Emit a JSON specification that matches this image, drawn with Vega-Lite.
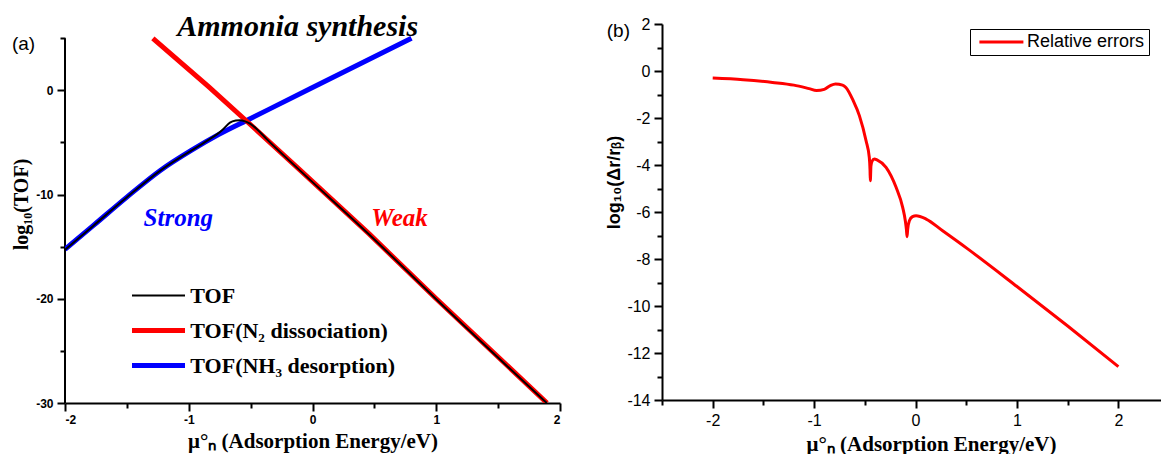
{
  "$schema": "https://vega.github.io/schema/vega-lite/v6.json",
  "padding": {"left": 11, "top": 12, "right": 0, "bottom": 0},
  "autosize": {"type": "pad"},
  "spacing": 44,
  "align": "none",
  "config": {
    "view": {"stroke": null},
    "axis": {
      "grid": false,
      "domainColor": "black",
      "domainWidth": 2,
      "tickColor": "black",
      "tickWidth": 2,
      "labelColor": "black",
      "titleColor": "black",
      "titleFont": "Liberation Serif",
      "titleFontWeight": "bold",
      "titleFontSize": 20
    }
  },
  "datasets": {
    "tof": [
      {"series": "TOF(NH₃ desorption)", "x": -2.0, "y": -15.25},
      {"series": "TOF(NH₃ desorption)", "x": -1.77, "y": -12.96},
      {"series": "TOF(NH₃ desorption)", "x": -1.5, "y": -10.24},
      {"series": "TOF(NH₃ desorption)", "x": -1.23, "y": -7.68},
      {"series": "TOF(NH₃ desorption)", "x": -0.98, "y": -5.76},
      {"series": "TOF(NH₃ desorption)", "x": -0.76, "y": -4.25},
      {"series": "TOF(NH₃ desorption)", "x": -0.5, "y": -2.7},
      {"series": "TOF(NH₃ desorption)", "x": -0.02, "y": 0.16},
      {"series": "TOF(NH₃ desorption)", "x": 0.8, "y": 5.0},
      {"series": "TOF(N₂ dissociation)", "x": -1.29, "y": 5.0},
      {"series": "TOF(N₂ dissociation)", "x": -0.84, "y": 0.35},
      {"series": "TOF(N₂ dissociation)", "x": -0.5, "y": -3.3},
      {"series": "TOF(N₂ dissociation)", "x": -0.1, "y": -7.65},
      {"series": "TOF(N₂ dissociation)", "x": 0.46, "y": -13.8},
      {"series": "TOF(N₂ dissociation)", "x": 1.0, "y": -20.0},
      {"series": "TOF(N₂ dissociation)", "x": 1.895, "y": -30.0},
      {"series": "TOF", "x": -2.0, "y": -15.3},
      {"series": "TOF", "x": -1.77, "y": -12.98},
      {"series": "TOF", "x": -1.5, "y": -10.26},
      {"series": "TOF", "x": -1.23, "y": -7.7},
      {"series": "TOF", "x": -0.98, "y": -5.78},
      {"series": "TOF", "x": -0.83, "y": -4.67},
      {"series": "TOF", "x": -0.77, "y": -4.2},
      {"series": "TOF", "x": -0.72, "y": -3.7},
      {"series": "TOF", "x": -0.667, "y": -3.1},
      {"series": "TOF", "x": -0.62, "y": -2.9},
      {"series": "TOF", "x": -0.586, "y": -2.86},
      {"series": "TOF", "x": -0.545, "y": -2.97},
      {"series": "TOF", "x": -0.505, "y": -3.2},
      {"series": "TOF", "x": -0.451, "y": -3.7},
      {"series": "TOF", "x": -0.37, "y": -4.68},
      {"series": "TOF", "x": -0.1, "y": -7.7},
      {"series": "TOF", "x": 0.46, "y": -13.85},
      {"series": "TOF", "x": 1.0, "y": -20.05},
      {"series": "TOF", "x": 1.893, "y": -30.0}
    ],
    "err": [
      {"series": "Relative errors", "x": -2.0, "y": -0.3},
      {"series": "Relative errors", "x": -1.7, "y": -0.37},
      {"series": "Relative errors", "x": -1.41, "y": -0.485},
      {"series": "Relative errors", "x": -1.2, "y": -0.6},
      {"series": "Relative errors", "x": -1.05, "y": -0.75},
      {"series": "Relative errors", "x": -0.976, "y": -0.83},
      {"series": "Relative errors", "x": -0.9, "y": -0.78},
      {"series": "Relative errors", "x": -0.84, "y": -0.62},
      {"series": "Relative errors", "x": -0.789, "y": -0.55},
      {"series": "Relative errors", "x": -0.72, "y": -0.6},
      {"series": "Relative errors", "x": -0.687, "y": -0.7},
      {"series": "Relative errors", "x": -0.615, "y": -1.26},
      {"series": "Relative errors", "x": -0.554, "y": -1.9},
      {"series": "Relative errors", "x": -0.488, "y": -2.97},
      {"series": "Relative errors", "x": -0.456, "y": -3.68},
      {"series": "Relative errors", "x": -0.449, "y": -4.2},
      {"series": "Relative errors", "x": -0.446, "y": -4.67},
      {"series": "Relative errors", "x": -0.44, "y": -4.05},
      {"series": "Relative errors", "x": -0.43, "y": -3.85},
      {"series": "Relative errors", "x": -0.406, "y": -3.74},
      {"series": "Relative errors", "x": -0.38, "y": -3.78},
      {"series": "Relative errors", "x": -0.291, "y": -4.1},
      {"series": "Relative errors", "x": -0.192, "y": -4.95},
      {"series": "Relative errors", "x": -0.127, "y": -5.8},
      {"series": "Relative errors", "x": -0.101, "y": -6.37},
      {"series": "Relative errors", "x": -0.09, "y": -6.75},
      {"series": "Relative errors", "x": -0.084, "y": -7.05},
      {"series": "Relative errors", "x": -0.078, "y": -6.75},
      {"series": "Relative errors", "x": -0.061, "y": -6.37},
      {"series": "Relative errors", "x": -0.03, "y": -6.2},
      {"series": "Relative errors", "x": 0.005, "y": -6.16},
      {"series": "Relative errors", "x": 0.104, "y": -6.3},
      {"series": "Relative errors", "x": 0.267, "y": -6.8},
      {"series": "Relative errors", "x": 0.514, "y": -7.57},
      {"series": "Relative errors", "x": 1.0, "y": -9.17},
      {"series": "Relative errors", "x": 1.5, "y": -10.85},
      {"series": "Relative errors", "x": 2.0, "y": -12.58}
    ]
  },
  "resolve": {"scale": {"color": "independent"}, "legend": {"color": "independent"}},
  "hconcat": [
    {
      "width": 495,
      "height": 379,
      "encoding": {
        "x": {
          "field": "x", "type": "quantitative",
          "scale": {"domain": [-2, 2], "nice": false, "zero": false},
          "axis": {
            "title": "μ°ₙ (Adsorption Energy/eV)",
            "titleFontSize": 21,
            "values": [-2, -1.5, -1, -0.5, 0, 0.5, 1, 1.5, 2],
            "labelExpr": "datum.value % 1 === 0 ? toString(datum.value) : ''",
            "tickSize": {"condition": {"test": "datum.value % 1 === 0", "value": 8}, "value": 5},
            "labelFont": "Liberation Sans", "labelFontWeight": "bold", "labelFontSize": 12,
            "labelPadding": 3, "titlePadding": 5
          }
        },
        "y": {
          "field": "y", "type": "quantitative",
          "scale": {"domain": [-30, 6.37], "nice": false, "zero": false},
          "axis": {
            "title": "log₁₀(TOF)",
            "domain": false,
            "values": [-30, -25, -20, -15, -10, -5, 0, 5],
            "labelExpr": "datum.value % 10 === 0 ? toString(datum.value) : ''",
            "tickSize": {"condition": {"test": "datum.value % 10 === 0", "value": 8}, "value": 5},
            "labelFont": "Liberation Sans", "labelFontWeight": "bold", "labelFontSize": 12,
            "labelPadding": 4, "titlePadding": 4, "titleY": 180
          }
        }
      },
      "layer": [
        {
          "data": {"values": [{"x": -2, "y": -30, "y2": 5}]},
          "mark": {"type": "rule", "strokeWidth": 2, "color": "black"},
          "encoding": {"y2": {"field": "y2"}}
        },
        {
          "data": {"name": "tof"},
          "transform": [{"filter": "datum.series === 'TOF(NH₃ desorption)'"}],
          "mark": {"type": "line", "interpolate": "monotone", "strokeWidth": 5, "clip": true},
          "encoding": {
            "color": {
              "field": "series", "type": "nominal",
              "scale": {"domain": ["TOF", "TOF(N₂ dissociation)", "TOF(NH₃ desorption)"], "range": ["#000000", "#ff0000", "#0000ff"]},
              "legend": {
                "title": null, "orient": "none", "legendX": 67, "legendY": 260.5,
                "symbolType": "stroke", "symbolSize": 2809, "symbolStrokeWidth": 5,
                "labelFont": "Liberation Serif", "labelFontWeight": "bold", "labelFontSize": 22,
                "labelColor": "black", "rowPadding": 13, "padding": 0,
                "symbolOffset": 15.5, "labelOffset": 20.8,
                "labelLimit": 400,
                "encode": {"symbols": {"update": {"strokeWidth": {"signal": "datum.value === 'TOF' ? 2 : 5"}}}}
              }
            }
          }
        },
        {
          "data": {"name": "tof"},
          "transform": [{"filter": "datum.series === 'TOF(N₂ dissociation)'"}],
          "mark": {"type": "line", "strokeWidth": 5, "clip": true},
          "encoding": {"color": {"field": "series", "type": "nominal"}}
        },
        {
          "data": {"name": "tof"},
          "transform": [{"filter": "datum.series === 'TOF'"}],
          "mark": {"type": "line", "interpolate": "monotone", "strokeWidth": 2, "clip": true},
          "encoding": {"color": {"field": "series", "type": "nominal"}}
        },
        {
          "data": {"values": [{"x": -1.084, "y": -12.2, "t": "Strong"}]},
          "mark": {"type": "text", "font": "Liberation Serif", "fontSize": 25, "fontWeight": "bold", "fontStyle": "italic", "color": "#0000ff"},
          "encoding": {"text": {"field": "t"}}
        },
        {
          "data": {"values": [{"x": 0.703, "y": -12.2, "t": "Weak"}]},
          "mark": {"type": "text", "font": "Liberation Serif", "fontSize": 25, "fontWeight": "bold", "fontStyle": "italic", "color": "#ff0000"},
          "encoding": {"text": {"field": "t"}}
        },
        {
          "data": {"values": [{"x": -2.335, "y": 4.41, "t": "(a)"}]},
          "mark": {"type": "text", "font": "Liberation Sans", "fontSize": 19, "color": "black"},
          "encoding": {"text": {"field": "t"}}
        },
        {
          "data": {"values": [{"x": -0.12, "y": 5.18, "t": "Ammonia synthesis"}]},
          "mark": {"type": "text", "font": "Liberation Serif", "fontSize": 30, "fontWeight": "bold", "fontStyle": "italic", "color": "black", "baseline": "alphabetic", "align": "center"},
          "encoding": {"text": {"field": "t"}}
        }
      ]
    },
    {
      "width": 499,
      "height": 376,
      "encoding": {
        "x": {
          "field": "x", "type": "quantitative",
          "scale": {"domain": [-2.5, 2.42], "nice": false, "zero": false},
          "axis": {
            "title": "μ°ₙ (Adsorption Energy/eV)",
            "titleFontSize": 21,
            "values": [-2.5, -2, -1.5, -1, -0.5, 0, 0.5, 1, 1.5, 2],
            "labelExpr": "datum.value % 1 === 0 ? toString(datum.value) : ''",
            "tickSize": {"condition": {"test": "datum.value % 1 === 0", "value": 8}, "value": 5},
            "labelFont": "Liberation Sans", "labelFontSize": 16,
            "labelPadding": 4, "titlePadding": 5, "titleX": 269
          }
        },
        "y": {
          "field": "y", "type": "quantitative",
          "scale": {"domain": [-14, 2], "nice": false, "zero": false},
          "axis": {
            "title": "log₁₀(Δr/rᵦ)",
            "titleFont": "Liberation Sans", "titleFontSize": 18,
            "values": [-14, -13, -12, -11, -10, -9, -8, -7, -6, -5, -4, -3, -2, -1, 0, 1, 2],
            "labelExpr": "datum.value % 2 === 0 ? toString(datum.value) : ''",
            "tickSize": {"condition": {"test": "datum.value % 2 === 0", "value": 8}, "value": 5},
            "labelFont": "Liberation Sans", "labelFontSize": 16,
            "labelPadding": 4, "titlePadding": 3, "titleY": 158
          }
        }
      },
      "layer": [
        {
          "data": {"name": "err"},
          "mark": {"type": "line", "interpolate": "monotone", "strokeWidth": 3},
          "encoding": {
            "color": {
              "field": "series", "type": "nominal",
              "scale": {"range": ["#ff0000"]},
              "legend": {
                "title": null, "orient": "none", "legendX": 308, "legendY": 5,
                "symbolType": "stroke", "symbolSize": 1936, "symbolStrokeWidth": 3,
                "labelFont": "Liberation Sans", "labelFontSize": 18, "labelColor": "black",
                "strokeColor": "black", "padding": 4, "symbolOffset": 18.4, "labelOffset": 16.6,
                "encode": {"symbols": {"update": {"strokeWidth": {"signal": "datum.value === 'Relative errors' ? 3 : 3"}}}}
              }
            }
          }
        },
        {
          "data": {"values": [{"x": -2.93, "y": 1.71, "t": "(b)"}]},
          "mark": {"type": "text", "font": "Liberation Sans", "fontSize": 19, "color": "black"},
          "encoding": {"text": {"field": "t"}}
        }
      ]
    }
  ]
}
